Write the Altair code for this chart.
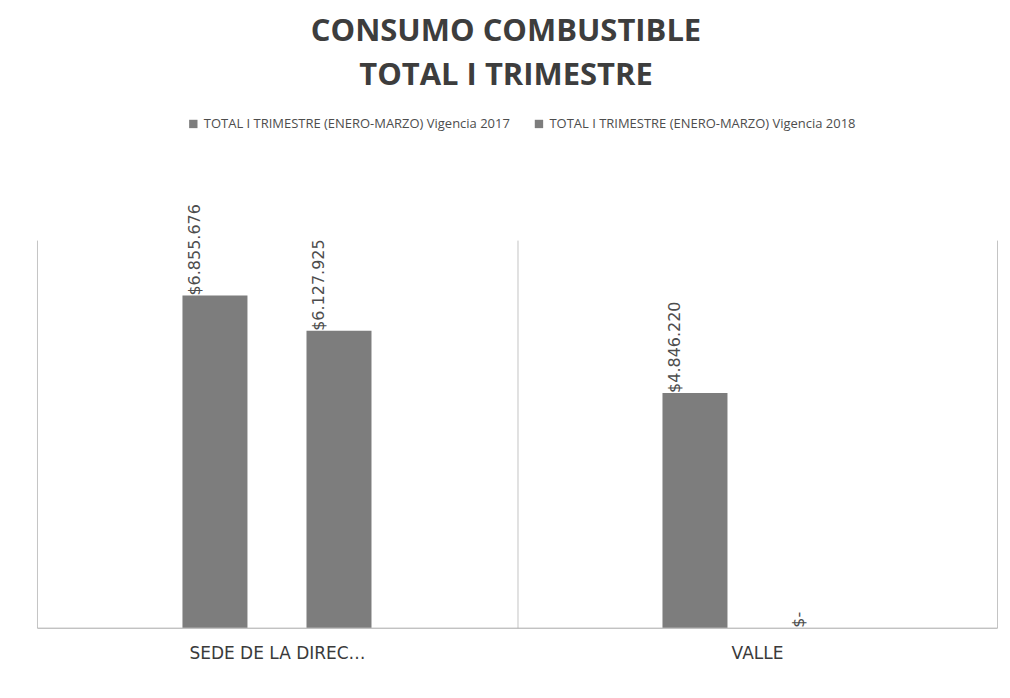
import altair as alt
import pandas as pd

categories = ["SEDE DE LA DIRECCIÓN GENERAL", "VALLE"]
series = [
    "TOTAL I TRIMESTRE (ENERO-MARZO) Vigencia 2017",
    "TOTAL I TRIMESTRE (ENERO-MARZO) Vigencia 2018",
]
values_2017 = [6855676, 4846220]
values_2018 = [6127925, 0]
title_lines = ["CONSUMO COMBUSTIBLE", "TOTAL I TRIMESTRE"]


def fmt(v):
    return ("$" + f"{v:,}".replace(",", ".")) if v else "$-"


rows = []
for i, c in enumerate(categories):
    for s, vals in zip(series, [values_2017, values_2018]):
        rows.append({"cat": c, "serie": s, "valor": vals[i], "etiqueta": fmt(vals[i])})
df = pd.DataFrame(rows)

BAR = "#7d7d7d"
GRID = "#c4c4c4"
TXT = "#4d4d4d"

# empty slots on both sides of each pair of bars (Excel-style gap width)
offset_domain = ["_a"] + series + ["_b"]

xscale = alt.Scale(domain=categories, paddingInner=0, paddingOuter=0)
yscale = alt.Scale(domain=[0, 8000000], nice=False)
xoff_scale = alt.Scale(domain=offset_domain, paddingInner=0.476, paddingOuter=0.173)

xaxis = alt.Axis(
    title=None,
    grid=True,
    gridColor=GRID,
    tickBand="extent",
    ticks=False,
    domain=True,
    domainColor="#a8a8a8",
    labelAngle=0,
    labelFont="DejaVu Sans",
    labelFontSize=17,
    labelColor="#3a3a3a",
    labelPadding=18,
)

base = alt.Chart(df)

bars = base.mark_bar(color=BAR).encode(
    x=alt.X("cat:N", scale=xscale, axis=xaxis),
    xOffset=alt.XOffset("serie:N", scale=xoff_scale),
    y=alt.Y("valor:Q", scale=yscale, axis=None),
    color=alt.Color(
        "serie:N",
        scale=alt.Scale(domain=series, range=[BAR, BAR]),
        legend=alt.Legend(
            title=None,
            orient="none",
            legendX=150,
            legendY=-123,
            direction="horizontal",
            columns=2,
            columnPadding=22,
            symbolType="square",
            symbolSize=70,
            symbolStrokeWidth=0,
            labelFont="Open Sans",
            labelFontSize=13,
            labelColor=TXT,
            labelOffset=4,
            labelLimit=400,
            padding=0,
        ),
    ),
)

labels = base.mark_text(
    angle=270,
    align="left",
    baseline="middle",
    dy=-20,
    font="DejaVu Sans",
    fontSize=16,
    color=TXT,
).encode(
    x=alt.X("cat:N", scale=xscale, axis=xaxis),
    xOffset=alt.XOffset("serie:N", scale=xoff_scale),
    y=alt.Y("valor:Q", scale=yscale, axis=None),
    text="etiqueta:N",
)

chart = (
    alt.layer(bars, labels)
    .properties(
        width=961,
        height=388,
        padding={"left": 29, "top": 8, "right": 5, "bottom": 5},
        title=alt.TitleParams(
            text=title_lines,
            font="Open Sans",
            fontSize=31,
            fontWeight="bold",
            color="#3d3d3d",
            anchor="middle",
            lineHeight=44,
            offset=25,
            dx=-11,
        ),
        background="white",
    )
    .configure_view(strokeWidth=0)
)

chart.save("out.html", embed_options={"renderer": "svg", "actions": False})
